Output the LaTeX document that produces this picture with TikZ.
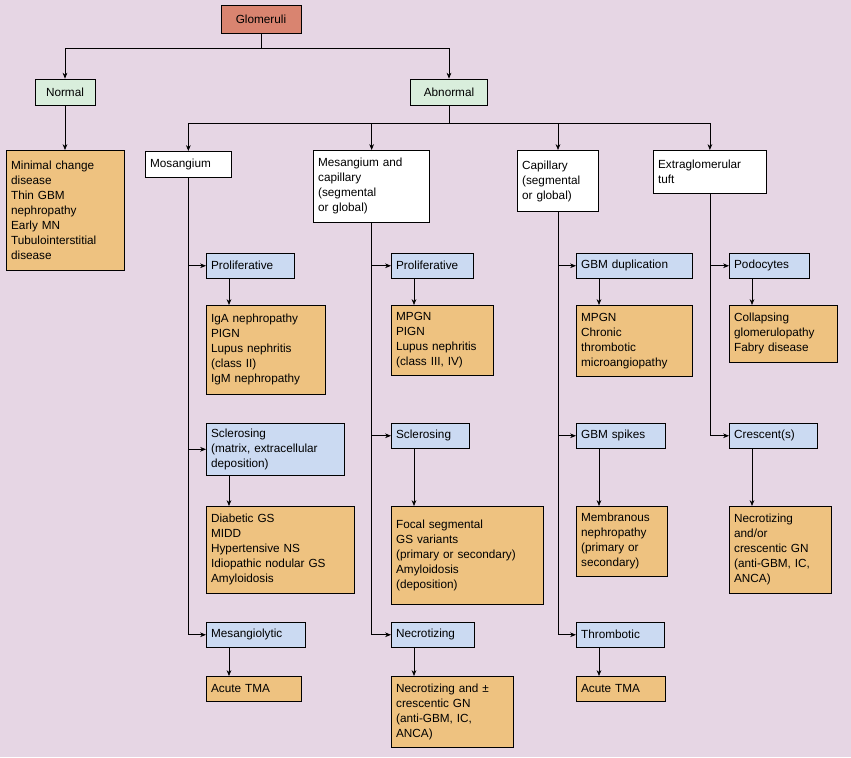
\documentclass[tikz,border=0pt]{standalone}
\usepackage{fontspec}
\setmainfont{Liberation Sans}
\usetikzlibrary{arrows.meta}
\definecolor{bg}{RGB}{230,214,228}
\definecolor{org}{RGB}{238,194,128}
\definecolor{blu}{RGB}{203,218,242}
\definecolor{grn}{RGB}{217,238,220}
\definecolor{red}{RGB}{217,132,112}
\begin{document}
\begin{tikzpicture}[x=0.85pt,y=-0.85pt,
  font=\fontsize{10}{12.75}\selectfont,
  b/.style={draw=black,line width=0.7pt,anchor=north west,align=left,inner xsep=4pt,inner ysep=3pt},
  o/.style={b,fill=org},
  u/.style={b,fill=blu},
  w/.style={b,fill=white},
  arr/.style={-{Stealth[length=5pt,width=4pt]},line width=0.6pt},
  ln/.style={line width=0.6pt}]
\fill[bg] (0,0) rectangle (851,757);
\useasboundingbox (0,0) rectangle (851,757);
\node[draw,line width=0.7pt,fill=red,minimum width=68pt,minimum height=23.8pt] (glom) at (261,19) {Glomeruli};
\node[draw,line width=0.7pt,fill=grn,minimum width=51pt,minimum height=22pt] (norm) at (65,92) {Normal};
\node[draw,line width=0.7pt,fill=grn,minimum width=65.5pt,minimum height=22pt] (abn) at (449,92) {Abnormal};
\node[o,text width=92pt,minimum height=102pt] (minc) at (6,150) {Minimal change\\disease\\Thin GBM\\nephropathy\\Early MN\\Tubulointerstitial\\disease};
\node[w,text width=65pt,minimum height=22pt] (mos) at (145,151) {Mosangium};
\node[w,text width=91pt,minimum height=61pt] (mc) at (313,150) {Mesangium and\\capillary\\(segmental\\or global)};
\node[w,text width=61pt,minimum height=52pt] (cap) at (517,150) {Capillary\\(segmental\\or global)};
\node[w,text width=88pt,minimum height=36.5pt] (ext) at (653,150) {Extraglomerular\\tuft};
% left column
\node[u,text width=67pt,minimum height=21pt] (p1) at (206,253) {Proliferative};
\node[o,text width=93pt,minimum height=75.6pt] (d1) at (206,305) {IgA nephropathy\\PIGN\\Lupus nephritis\\(class II)\\IgM nephropathy};
\node[u,text width=109pt,minimum height=44pt] (s1) at (206,423) {Sclerosing\\(matrix, extracellular\\deposition)};
\node[o,text width=118pt,minimum height=74pt] (e1) at (206,506) {Diabetic GS\\MIDD\\Hypertensive NS\\Idiopathic nodular GS\\Amyloidosis};
\node[u,text width=76pt,minimum height=21pt] (m1) at (206,622) {Mesangiolytic};
\node[o,text width=73pt,minimum height=21pt] (f1) at (206,676) {Acute TMA};
% mid column
\node[u,text width=62pt,minimum height=21pt] (p2) at (391,253) {Proliferative};
\node[o,text width=79pt,minimum height=59.5pt] (d2) at (391,305) {MPGN\\PIGN\\Lupus nephritis\\(class III, IV)};
\node[u,text width=58pt,minimum height=21pt] (s2) at (391,423) {Sclerosing};
\node[o,text width=121pt,minimum height=83pt] (e2) at (391,506) {Focal segmental\\GS variants\\(primary or secondary)\\Amyloidosis\\(deposition)};
\node[u,text width=62.5pt,minimum height=21pt] (m2) at (391,622) {Necrotizing};
\node[o,text width=95.5pt,minimum height=60pt] (f2) at (391,676) {Necrotizing and ±\\crescentic GN\\(anti-GBM, IC,\\ANCA)};
% capillary column
\node[u,text width=91pt,minimum height=21pt] (p3) at (576,253) {GBM duplication};
\node[o,text width=91pt,minimum height=60pt] (d3) at (576,305) {MPGN\\Chronic\\thrombotic\\microangiopathy};
\node[u,text width=68pt,minimum height=21pt] (s3) at (576,423) {GBM spikes};
\node[o,text width=69pt,minimum height=59.5pt] (e3) at (576,506) {Membranous\\nephropathy\\(primary or\\secondary)};
\node[u,text width=66.5pt,minimum height=21pt] (m3) at (576,622) {Thrombotic};
\node[o,text width=68pt,minimum height=21pt] (f3) at (576,676) {Acute TMA};
% extra column
\node[u,text width=60pt,minimum height=21pt] (p4) at (729,253) {Podocytes};
\node[o,text width=83.6pt,minimum height=48.5pt] (d4) at (729,305) {Collapsing\\glomerulopathy\\Fabry disease};
\node[u,text width=66.5pt,minimum height=21pt] (s4) at (729,423) {Crescent(s)};
\node[o,text width=78.5pt,minimum height=74pt] (e4) at (729,506) {Necrotizing\\and/or\\crescentic GN\\(anti-GBM, IC,\\ANCA)};
% top connectors
\draw[arr] (glom.south) -- ++(0,15) -| (norm.north);
\draw[arr] (glom.south) -- ++(0,15) -| (abn.north);
\draw[arr] (norm.south) -- (minc.north -| norm.south);
\draw[arr] (abn.south) -- ++(0,18) -| (mos.north);
\draw[arr] (abn.south) -- ++(0,18) -| (mc.north);
\draw[arr] (abn.south) -- ++(0,18) -| (cap.north);
\draw[arr] (abn.south) -- ++(0,18) -| (ext.north);
% spines
\foreach \a/\p/\s/\m in {mos/p1/s1/m1, mc/p2/s2/m2, cap/p3/s3/m3}{
  \draw[arr] (\a.south) |- (\p.west);
  \draw[arr] (\a.south) |- (\s.west);
  \draw[arr] (\a.south) |- (\m.west);
}
\draw[arr] (ext.south) |- (p4.west);
\draw[arr] (ext.south) |- (s4.west);
% child arrows
\foreach \a/\b in {p1/d1,s1/e1,m1/f1,p2/d2,s2/e2,m2/f2,p3/d3,s3/e3,m3/f3,p4/d4,s4/e4}{
  \draw[arr] ([shift={(23,0)}]\a.south west) -- ([shift={(23,0)}]\b.north west);
}
\end{tikzpicture}
\end{document}
